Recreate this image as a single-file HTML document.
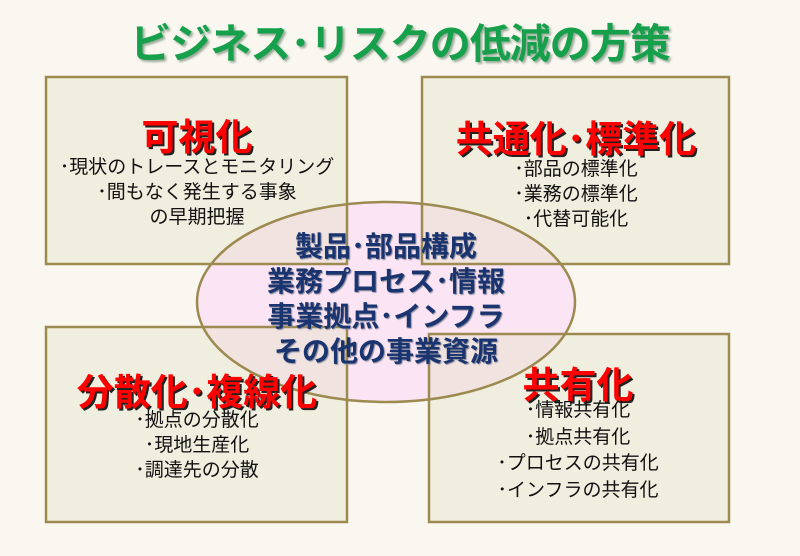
<!DOCTYPE html>
<html><head><meta charset="utf-8"><style>
body{margin:0;width:800px;height:556px;background:#faf7f0;position:relative;overflow:hidden;font-family:"Liberation Sans","Noto Sans CJK JP",sans-serif}
.t{position:absolute;left:0;width:800px;text-align:center;white-space:nowrap}
.h{font-weight:bold;color:#f00;font-size:37px;text-shadow:2px 2px 0 #222}
.b{color:#111;font-size:19px;line-height:25px}
.e{color:#1a3470;font-weight:bold;font-size:28px;line-height:35px;text-shadow:1px 1px 1px #889}
</style></head><body>
<svg width="800" height="556" style="position:absolute;left:0;top:0">
<ellipse cx="386" cy="302" rx="189" ry="100" fill="#fbe4f4"/>
<g fill="rgba(228,226,200,0.45)" stroke="#9c8a50" stroke-width="2.5">
<rect x="46" y="77" width="301" height="187"/>
<rect x="422" y="77" width="307" height="187"/>
<rect x="46" y="327" width="301" height="195"/>
<rect x="429" y="334" width="300" height="188"/>
</g>
<ellipse cx="386" cy="302" rx="189" ry="100" fill="none" stroke="#9c8a50" stroke-width="2.5"/>
</svg>
<div class="t" style="top:10px;font-size:41px;font-weight:bold;color:#17a04c;text-shadow:2px 2px 2px #9a9;letter-spacing:-1px">ビジネス･リスクの低減の方策</div>
<div class="t h" style="left:-203px;top:107px">可視化</div>
<div class="t b" style="left:-203px;top:155px">･現状のトレースとモニタリング<br>･間もなく発生する事象<br>の早期把握</div>
<div class="t h" style="left:176px;top:109px">共通化･標準化</div>
<div class="t b" style="left:176px;top:157px">･部品の標準化<br>･業務の標準化<br>･代替可能化</div>
<div class="t e" style="left:-14px;top:229px">製品･部品構成<br>業務プロセス･情報<br>事業拠点･インフラ<br>その他の事業資源</div>
<div class="t h" style="left:-203px;top:362px">分散化･複線化</div>
<div class="t b" style="left:-203px;top:408px">･拠点の分散化<br>･現地生産化<br>･調達先の分散</div>
<div class="t h" style="left:178px;top:355px">共有化</div>
<div class="t b" style="left:178px;top:398px;line-height:26.5px">･情報共有化<br>･拠点共有化<br>･プロセスの共有化<br>･インフラの共有化</div>
</body></html>
